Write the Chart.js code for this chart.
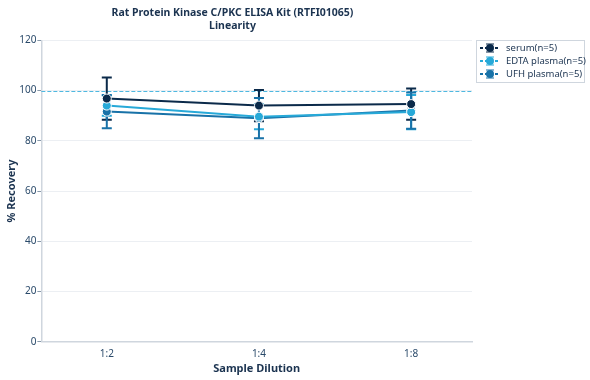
<!DOCTYPE html>
<html><head><meta charset="utf-8">
<script src="https://cdn.jsdelivr.net/npm/chart.js@4"></script>
<style>html,body{margin:0;padding:0;background:#fff;}#wrap{width:590px;height:380px;}</style>
</head><body><div id="wrap"><canvas id="c" width="590" height="380"></canvas></div>
<script>
const categories = ["1:2", "1:4", "1:8"];
const seriesNames = ["serum(n=5)", "EDTA plasma(n=5)", "UFH plasma(n=5)"];
const serum = [96.8, 94.0, 94.6];
const serumErr = [8.4, 6.2, 6.2];
const edta = [94.0, 89.6, 91.4];
const edtaErr = [4.0, 5.0, 6.8];
const ufh = [91.6, 89.0, 92.0];
const ufhErr = [6.6, 8.0, 7.2];
const yTicks = [0, 20, 40, 60, 80, 100, 120];
const refValue = 100;
const colors = ["#0b2a4a", "#27a9d8", "#1872a8"];

const values = [serum, edta, ufh];
const errs = [serumErr, edtaErr, ufhErr];

const datasets = values.map((v, i) => ({
  label: seriesNames[i],
  data: v.map((y, j) => ({x: j, y: y})),
  errs: errs[i],
  borderColor: colors[i],
  backgroundColor: colors[i],
  borderWidth: 2,
  pointRadius: 4.5,
  pointBorderColor: "#fff",
  pointBorderWidth: 1,
  pointHoverRadius: 4.5,
  tension: 0
}));

const errorBars = {
  id: "errorBars",
  afterLayout(chart) {
    const t = chart.titleBlock;
    if (t) { t.right -= 12; t.width -= 12; }
  },
  beforeDatasetsDraw(chart) {
    const ctx = chart.ctx, xs = chart.scales.x, ys = chart.scales.y;
    const ca = chart.chartArea;
    ctx.save();
    ctx.strokeStyle = "#4fb8e0";
    ctx.lineWidth = 1;
    ctx.setLineDash([4, 2]);
    const ry = Math.round(ys.getPixelForValue(refValue)) + 0.5;
    ctx.beginPath(); ctx.moveTo(ca.left, ry); ctx.lineTo(ca.right, ry); ctx.stroke();
    ctx.restore();
    chart.data.datasets.forEach((ds) => {
      ctx.save();
      ctx.strokeStyle = ds.borderColor;
      ctx.lineWidth = 2;
      ds.data.forEach((p, j) => {
        const e = ds.errs[j];
        const x = xs.getPixelForValue(p.x);
        const yt = ys.getPixelForValue(p.y + e);
        const yb = ys.getPixelForValue(p.y - e);
        ctx.beginPath();
        ctx.moveTo(x, yt); ctx.lineTo(x, yb);
        ctx.moveTo(x - 5, yt); ctx.lineTo(x + 5, yt);
        ctx.moveTo(x - 5, yb); ctx.lineTo(x + 5, yb);
        ctx.stroke();
      });
      ctx.restore();
    });
  },
  afterDraw(chart) {
    const ctx = chart.ctx;
    const lx = 476, ly = 40, lw = 108, lh = 42;
    ctx.save();
    ctx.strokeStyle = "#cfd6de";
    ctx.lineWidth = 1;
    ctx.strokeRect(lx + 0.5, ly + 0.5, lw, lh);
    ctx.font = "9.5px 'Noto Sans'";
    ctx.textBaseline = "middle";
    chart.data.datasets.forEach((ds, i) => {
      const y = ly + 8 + i * 13;
      ctx.strokeStyle = ds.borderColor;
      ctx.lineWidth = 2;
      ctx.setLineDash([3, 2]);
      ctx.beginPath(); ctx.moveTo(lx + 4, y); ctx.lineTo(lx + 24, y); ctx.stroke();
      ctx.setLineDash([]);
      ctx.beginPath(); ctx.moveTo(lx + 10, y - 4); ctx.lineTo(lx + 18, y - 4);
      ctx.moveTo(lx + 10, y + 4); ctx.lineTo(lx + 18, y + 4); ctx.lineWidth = 1; ctx.stroke();
      ctx.fillStyle = ds.borderColor;
      ctx.beginPath(); ctx.arc(lx + 14, y, 4, 0, Math.PI * 2); ctx.fill();
      ctx.fillStyle = "#1b3350";
      ctx.fillText(ds.label, lx + 30, y);
    });
    ctx.restore();
  }
};

new Chart(document.getElementById("c"), {
  type: "line",
  data: {datasets},
  plugins: [errorBars],
  options: {
    responsive: false,
    animation: false,
    layout: {padding: {left: 5, right: 118, top: 0, bottom: 5}},
    plugins: {
      legend: {display: false},
      tooltip: {enabled: false},
      title: {
        display: true,
        text: ["Rat Protein Kinase C/PKC ELISA Kit (RTFI01065)", "Linearity"],
        color: "#1b3350",
        font: {family: "'Noto Sans'", size: 10.5, weight: "bold", lineHeight: 1.25},
        padding: {top: 6, bottom: 8}
      }
    },
    scales: {
      x: {
        type: "linear",
        min: -0.43, max: 2.4,
        afterBuildTicks(axis) { axis.ticks = categories.map((c, i) => ({value: i})); },
        ticks: {
          callback: (v) => categories[v],
          color: "#2a4a6a",
          font: {family: "'Noto Sans'", size: 10},
          padding: 2
        },
        grid: {display: false, drawOnChartArea: false, drawTicks: true, tickLength: 4, color: "#cfd6de"},
        border: {color: "#cfd6de", width: 1.5},
        title: {display: true, text: "Sample Dilution", color: "#1b3350",
          font: {family: "'Noto Sans'", size: 11, weight: "bold"}, padding: {top: 0, bottom: 0}}
      },
      y: {
        min: 0, max: 120,
        afterBuildTicks(axis) { axis.ticks = yTicks.map(v => ({value: v})); },
        ticks: {color: "#2a4a6a", font: {family: "'Noto Sans'", size: 10}, padding: 1},
        grid: {color: "#eceff3", tickLength: 4, tickColor: "#8899aa"},
        border: {color: "#cfd6de", width: 1.5},
        title: {display: true, text: "% Recovery", color: "#1b3350",
          font: {family: "'Noto Sans'", size: 11, weight: "bold"}, padding: {top: 0, bottom: 0}}
      }
    }
  }
});
</script></body></html>
